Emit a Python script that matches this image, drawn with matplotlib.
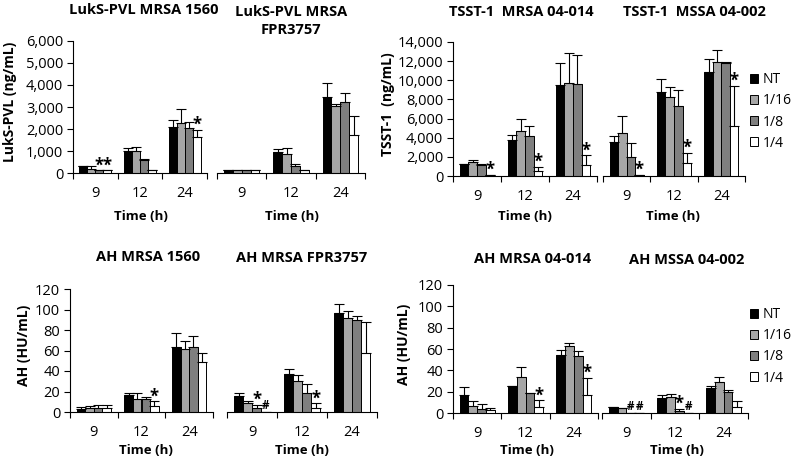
import numpy as np
import matplotlib
matplotlib.use("Agg")
import matplotlib.pyplot as plt
from matplotlib.ticker import FuncFormatter
from matplotlib.patches import Patch

plt.rcParams['font.family'] = ['Open Sans', 'DejaVu Sans']

times = ['9', '12', '24']
series = ['NT', '1/16', '1/8', '1/4']
colors = ['#000000', '#a6a6a6', '#7f7f7f', '#ffffff']

# rows = series (NT, 1/16, 1/8, 1/4), cols = time (9, 12, 24 h)
luk_1560_mean = [[330, 1000, 2070], [200, 980, 2280], [130, 600, 2040], [130, 120, 1620]]
luk_1560_sd = [[0, 150, 330], [100, 220, 620], [0, 50, 260], [0, 0, 340]]
luk_fpr_mean = [[150, 950, 3450], [150, 870, 3030], [150, 300, 3230], [150, 150, 1730]]
luk_fpr_sd = [[0, 130, 650], [0, 280, 120], [0, 120, 420], [0, 0, 870]]

tsst_014_mean = [[1300, 3750, 9500], [1450, 4700, 9700], [1200, 4150, 9600], [150, 500, 1150]]
tsst_014_sd = [[0, 550, 2300], [200, 1300, 3150], [100, 1050, 3050], [0, 450, 1000]]
tsst_002_mean = [[3600, 8750, 10850], [4500, 8300, 11950], [2000, 7300, 11800], [150, 1350, 5200]]
tsst_002_sd = [[550, 1350, 1400], [1800, 1050, 1250], [1450, 1700, 150], [0, 1100, 4200]]

ah_1560_mean = [[3, 17, 63.5], [4, 13, 61], [4, 13, 63.5], [4, 5.5, 49]]
ah_1560_sd = [[2, 2, 14], [2, 6, 8.5], [2.5, 2, 11], [3, 5, 9]]
ah_fpr_mean = [[15.5, 37.5, 96.5], [9, 30.5, 92], [4, 18.5, 89.5], [0, 4, 57.5]]
ah_fpr_sd = [[3, 4, 8.5], [2, 5.5, 6.5], [3, 9, 4], [0, 4.5, 30]]

ah_014_mean = [[17, 25.5, 54], [7, 34, 63], [4, 18.5, 53], [3, 6, 17]]
ah_014_sd = [[7.5, 0, 5.5], [4, 9.5, 3], [4, 0, 5], [2, 6, 16]]
ah_002_mean = [[5.5, 14, 23.5], [4.5, 15, 29], [0, 2, 20], [0, 0, 5.5]]
ah_002_sd = [[0, 3, 2], [0, 2.5, 4.5], [0, 2, 1.5], [0, 0, 6]]

# significance marks: (time index, series index, symbol)
luk_1560_marks = [(0, 2, '*'), (0, 3, '*'), (2, 3, '*')]
luk_fpr_marks = []
tsst_014_marks = [(0, 3, '*'), (1, 3, '*'), (2, 3, '*')]
tsst_002_marks = [(0, 3, '*'), (1, 3, '*'), (2, 3, '*')]
ah_1560_marks = [(1, 3, '*')]
ah_fpr_marks = [(0, 2, '*'), (0, 3, '#'), (1, 3, '*')]
ah_014_marks = [(1, 3, '*'), (2, 3, '*')]
ah_002_marks = [(0, 2, '#'), (0, 3, '#'), (1, 2, '*'), (1, 3, '#')]

W, H = 800, 465
fig = plt.figure(figsize=(W / 100, H / 100), dpi=100)


def px_axes(x0, x1, ytop, ybot):
    return fig.add_axes([x0 / W, 1 - ybot / H, (x1 - x0) / W, (ybot - ytop) / H])


def ftext(x, y, s, **kw):
    fig.text(x / W, 1 - y / H, s, ha='center', va='center', **kw)


def draw_panel(ax, mean, sd, marks, ymax, ystep, first):
    x = np.arange(len(times))
    bw = 0.18
    for i in range(len(series)):
        xs = x + (i - 1.5) * bw
        m = np.array(mean[i], dtype=float)
        s = np.array(sd[i], dtype=float)
        ax.bar(xs, m, bw, color=colors[i], edgecolor='black', linewidth=0.7, zorder=2)
        ax.errorbar(xs, m, yerr=[np.zeros_like(s), s], fmt='none', ecolor='black',
                    elinewidth=0.8, capsize=3.5, capthick=0.8, zorder=3)
    for t, i, sym in marks:
        top = mean[i][t] + sd[i][t]
        xs = t + (i - 1.5) * bw
        if sym == '*':
            ax.annotate('*', (xs, top), xytext=(0, -3), textcoords='offset points',
                        ha='center', va='bottom', fontsize=12, fontweight='bold')
        else:
            ax.annotate('#', (xs, top), xytext=(0, 0), textcoords='offset points',
                        ha='center', va='bottom', fontsize=8.5, fontweight='bold')
    ax.set_xlim(-0.5, 2.5)
    ax.set_ylim(0, ymax)
    ax.set_xticks([-0.5, 0.5, 1.5, 2.5])
    ax.set_xticklabels([])
    ax.set_xticks(x, minor=True)
    ax.set_xticklabels(times, minor=True, fontsize=10.5)
    ax.tick_params(axis='x', which='major', length=4, direction='out')
    ax.tick_params(axis='x', which='minor', length=0, pad=9)
    ax.spines['top'].set_visible(False)
    ax.spines['right'].set_visible(False)
    if first:
        ax.set_yticks(np.arange(0, ymax + 1, ystep))
        ax.yaxis.set_major_formatter(FuncFormatter(lambda v, p: f'{int(v):,}'))
        ax.tick_params(axis='y', labelsize=10.5, length=4, pad=3)
    else:
        ax.spines['left'].set_visible(False)
        ax.set_yticks([])


def draw_pair(xa, xb, ytop, ybot, data_a, data_b, ymax, ystep, titles, title_xy,
              xlabel_x, xlabel_y, ylabel, ylabel_x):
    ax1 = px_axes(xa[0], xa[1], ytop, ybot)
    draw_panel(ax1, *data_a, ymax, ystep, True)
    ax2 = px_axes(xb[0], xb[1], ytop, ybot)
    draw_panel(ax2, *data_b, ymax, ystep, False)
    for title, (tx, ty), lx in zip(titles, title_xy, xlabel_x):
        ftext(tx, ty, title, fontsize=10.5, fontweight='bold', linespacing=1.3)
        ftext(lx, xlabel_y, 'Time (h)', fontsize=9.5, fontweight='bold')
    ftext(ylabel_x, (ytop + ybot) / 2 - 5, ylabel, fontsize=10, fontweight='bold',
          rotation=90)


draw_pair((73, 207), (217, 365), 41, 173,
          (luk_1560_mean, luk_1560_sd, luk_1560_marks),
          (luk_fpr_mean, luk_fpr_sd, luk_fpr_marks), 6000, 1000,
          ('LukS-PVL MRSA 1560', 'LukS-PVL MRSA\nFPR3757'), ((144, 10), (291, 21)),
          (141, 292), 216, 'LukS-PVL (ng/mL)', 10)
draw_pair((453, 597), (603, 745), 42, 176,
          (tsst_014_mean, tsst_014_sd, tsst_014_marks),
          (tsst_002_mean, tsst_002_sd, tsst_002_marks), 14000, 2000,
          ('TSST-1  MRSA 04-014', 'TSST-1  MSSA 04-002'), ((521, 12), (694, 12)),
          (525, 673), 216, 'TSST-1  (ng/mL)', 388)
draw_pair((70, 213), (227, 377), 289, 412,
          (ah_1560_mean, ah_1560_sd, ah_1560_marks),
          (ah_fpr_mean, ah_fpr_sd, ah_fpr_marks), 120, 20,
          ('AH MRSA 1560', 'AH MRSA FPR3757'), ((148, 257), (302, 258)),
          (146, 302), 450, 'AH (HU/mL)', 24)
draw_pair((453, 598), (602, 748), 285, 413,
          (ah_014_mean, ah_014_sd, ah_014_marks),
          (ah_002_mean, ah_002_sd, ah_002_marks), 120, 20,
          ('AH MRSA 04-014', 'AH MSSA 04-002'), ((533, 259), (687, 260)),
          (527, 677), 450, 'AH (HU/mL)', 404)

handles = [Patch(facecolor=c, edgecolor='black', linewidth=0.7) for c in colors]
for ytop in (72, 307):
    fig.legend(handles, series, loc='upper left', bbox_to_anchor=(750 / W, 1 - ytop / H),
               frameon=False, fontsize=10, handlelength=0.6, handleheight=0.6,
               handletextpad=0.3, labelspacing=0.45, borderpad=0, borderaxespad=0)

fig.savefig('out.png', dpi=100)
